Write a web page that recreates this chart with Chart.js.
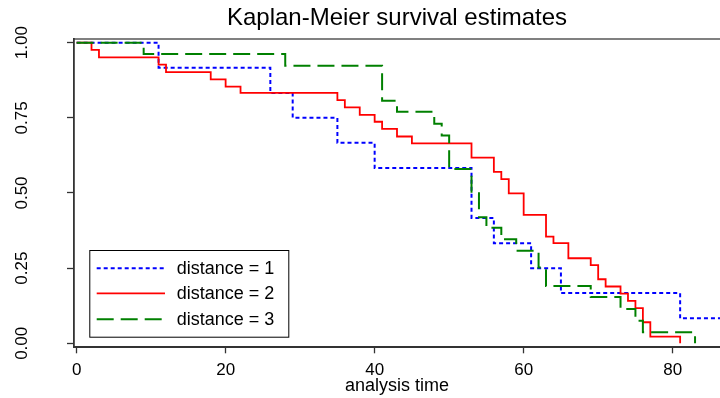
<!DOCTYPE html>
<html>
<head>
<meta charset="UTF-8">
<title>Kaplan-Meier survival estimates</title>
<script src="https://cdn.jsdelivr.net/npm/chart.js"></script>
<style>
  html, body { margin: 0; padding: 0; background: #fff; }
  #wrap { width: 720px; height: 398px; }
</style>
</head>
<body>
<div id="wrap"><canvas id="km" width="720" height="398"></canvas></div>
<script>
// step points (time, survival)
const timesD1 = [0, 11, 26, 29, 35, 40, 53, 56, 61, 65, 81, 88];
const survD1  = [1, .917, .833, .750, .667, .583, .417, .333, .250, .167, .083, .083];

const timesD2 = [0, 2, 3, 11, 12, 18, 20, 22, 35, 36, 38, 40, 41, 43, 45, 53, 56, 57, 58, 60, 63, 64, 66, 69, 70, 71, 73, 74, 75, 76, 77, 81];
const survD2  = [1, .976, .951, .927, .902, .878, .854, .833, .809, .785, .760, .737, .713, .688, .665, .618, .570, .546, .499, .427, .355, .333, .283, .260, .213, .189, .165, .141, .117, .070, .022, 0];

const timesD3 = [0, 9, 28, 41, 43, 48, 49, 50, 53, 54, 55, 57, 59, 62, 63, 69, 73, 75, 76, 83];
const survD3  = [1, .962, .923, .807, .770, .730, .691, .580, .499, .419, .384, .346, .308, .252, .191, .154, .114, .075, .037, 0];

const groupLabels = ["distance = 1", "distance = 2", "distance = 3"];
const xTicks = [0, 20, 40, 60, 80];
const yTicks = [0, 0.25, 0.5, 0.75, 1];

const pts = (t, s) => t.map((v, i) => ({ x: v, y: s[i] }));

Chart.defaults.font.family = "'Liberation Sans', Arial, Helvetica, sans-serif";
Chart.defaults.color = "#000";

// legend box inside the plot, bottom left
const boxLegend = {
  id: "boxLegend",
  afterDatasetsDraw(chart) {
    const { ctx, chartArea } = chart;
    const bx = chartArea.left + 15.3;
    const by = chartArea.bottom - 97.3;
    const bw = 199, bh = 86.7;
    const rows = [18.3, 43.3, 69.3];
    ctx.save();
    ctx.fillStyle = "#fff";
    ctx.fillRect(bx, by, bw, bh);
    ctx.strokeStyle = "#000";
    ctx.lineWidth = 1;
    ctx.strokeRect(bx + 0.5, by + 0.5, bw, bh);
    chart.data.datasets.forEach((ds, i) => {
      const y = by + rows[i];
      ctx.beginPath();
      ctx.setLineDash(ds.borderDash || []);
      ctx.strokeStyle = ds.borderColor;
      ctx.lineWidth = ds.borderWidth;
      ctx.moveTo(bx + 7.4, y);
      ctx.lineTo(bx + 75.7, y);
      ctx.stroke();
      ctx.setLineDash([]);
      ctx.fillStyle = "#000";
      ctx.font = "18px 'Liberation Sans', Arial, sans-serif";
      ctx.textBaseline = "middle";
      ctx.textAlign = "left";
      ctx.fillText(ds.label, bx + 87.4, y + 1);
    });
    ctx.restore();
  }
};

new Chart(document.getElementById("km"), {
  type: "line",
  data: {
    datasets: [
      {
        label: groupLabels[0],
        data: pts(timesD1, survD1),
        borderColor: "#0000ff",
        borderWidth: 2,
        borderDash: [4, 3],
        order: 3
      },
      {
        label: groupLabels[1],
        data: pts(timesD2, survD2),
        borderColor: "#ff0000",
        borderWidth: 1.8,
        order: 2
      },
      {
        label: groupLabels[2],
        data: pts(timesD3, survD3),
        borderColor: "#008000",
        borderWidth: 2,
        borderDash: [17, 7],
        order: 1
      }
    ]
  },
  options: {
    responsive: false,
    animation: false,
    devicePixelRatio: 1,
    layout: { padding: 0 },
    elements: {
      line: { stepped: "before", fill: false, tension: 0 },
      point: { radius: 0, hoverRadius: 0 }
    },
    plugins: {
      legend: { display: false },
      tooltip: { enabled: false }
    },
    scales: {
      x: {
        type: "linear",
        position: "bottom",
        min: -0.35,
        max: 86.35,
        afterBuildTicks: s => { s.ticks = xTicks.map(v => ({ value: v })); },
        afterFit: s => { s.height = 50.7; },
        grid: { drawOnChartArea: false, drawTicks: true, tickLength: 6, tickColor: "#333", tickWidth: 1.3 },
        border: { color: "#333", width: 2 },
        ticks: { font: { size: 17 }, padding: 6.5, maxRotation: 0, autoSkip: false, color: "#000" },
        title: { display: true, text: "analysis time", font: { size: 18 }, padding: { top: 0, bottom: 1.5 }, color: "#000" }
      },
      xTop: {
        type: "linear",
        axis: "x",
        position: "top",
        min: -0.35,
        max: 86.35,
        afterFit: s => { s.height = 39.3; },
        grid: { display: false, drawTicks: false },
        border: { color: "#808080", width: 2 },
        ticks: { display: false },
        title: { display: true, text: "Kaplan-Meier survival estimates", font: { size: 24 }, padding: { top: 4, bottom: 0 }, color: "#000" }
      },
      y: {
        type: "linear",
        position: "left",
        min: -0.0133,
        max: 1.0113,
        afterBuildTicks: s => { s.ticks = yTicks.map(v => ({ value: v })); },
        afterFit: s => { s.width = 74; },
        grid: { drawOnChartArea: false, drawTicks: true, tickLength: 7, tickColor: "#333", tickWidth: 1.3 },
        border: { color: "#333", width: 1.8 },
        ticks: {
          font: { size: 17 },
          minRotation: 90,
          maxRotation: 90,
          crossAlign: "center",
          padding: 28.5,
          autoSkip: false,
          color: "#000",
          callback: v => v.toFixed(2)
        }
      }
    }
  },
  plugins: [boxLegend]
});
</script>
</body>
</html>
